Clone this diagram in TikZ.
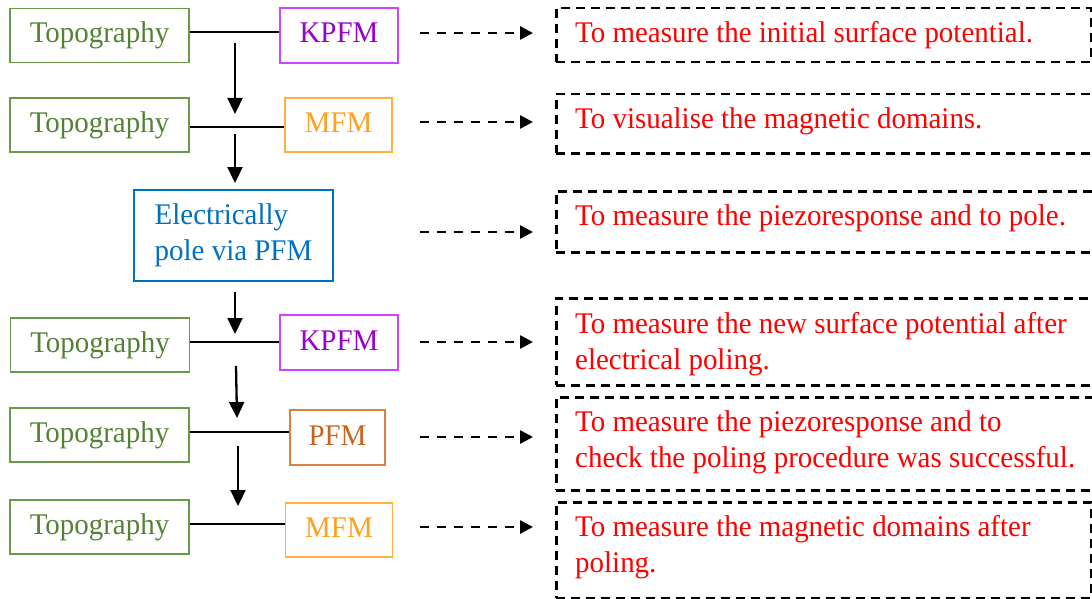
\documentclass[tikz,border=0pt]{standalone}
\usepackage{fontspec}
\setmainfont{Liberation Serif}[FakeStretch=0.965]
\usetikzlibrary{arrows.meta}
\definecolor{topoC}{HTML}{548235}
\definecolor{topoB}{HTML}{6A9A48}
\definecolor{kpfmC}{HTML}{9A00CC}
\definecolor{kpfmB}{HTML}{CC44FF}
\definecolor{mfmC}{HTML}{FFA020}
\definecolor{mfmB}{HTML}{FFB040}
\definecolor{pfmC}{HTML}{C8641E}
\definecolor{pfmB}{HTML}{D9823F}
\definecolor{blueC}{HTML}{0070C0}
\tikzset{
  every node/.style={font=\fontsize{30}{35.5}\selectfont, inner sep=0pt},
  single/.style={text height=15pt, text depth=0pt, line width=1.3pt},
  topo/.style={single, draw=topoB, text=topoC, minimum width=179, minimum height=54},
  kpfm/.style={single, draw=kpfmB, text=kpfmC, minimum width=118, minimum height=55},
  mfm/.style={single, draw=mfmB, text=mfmC, minimum width=107, minimum height=54},
  pfm/.style={single, draw=pfmB, text=pfmC, minimum width=95, minimum height=55},
  polebox/.style={draw=blueC, text=blueC, line width=1.3pt, minimum width=199, minimum height=91, align=left},
  dbox/.style={draw=black, line width=2.5pt, dash pattern=on 9pt off 6pt, anchor=north west},
  dtext/.style={text=red, anchor=base west, align=left},
  link/.style={draw=black, line width=2pt},
  flow/.style={draw=black, line width=2.3pt, -{Triangle[length=16pt,width=15pt]}},
  dflow/.style={draw=black, line width=2.6pt, dash pattern=on 9pt off 8pt, -{Triangle[length=13pt,width=13pt]}},
}
\begin{document}
\begin{tikzpicture}[x=1pt,y=-1pt]
\useasboundingbox (0,0) rectangle (1092,599);
\clip (0,0) rectangle (1092,599);
% left column
\node[topo] (t1) at (99.5,35.5) {Topography};
\node[kpfm] (k1) at (339,35.5) {KPFM};
\node[topo] (t2) at (99.5,125) {Topography};
\node[mfm]  (m2) at (338.5,125) {MFM};
\node[polebox] (pole) at (233.5,235.5) {Electrically\\pole via PFM};
\node[topo] (t4) at (100,345) {Topography};
\node[kpfm] (k4) at (339,342.5) {KPFM};
\node[topo] (t5) at (99.5,435) {Topography};
\node[pfm]  (p5) at (337.5,437.5) {PFM};
\node[topo] (t6) at (99.5,527) {Topography};
\node[mfm]  (m6) at (339,530) {MFM};
% horizontal links
\draw[link] ([yshift=3.5pt]t1.east) -- ([yshift=3.5pt]k1.west);
\draw[link] ([yshift=-2pt]t2.east) -- ([yshift=-2pt]m2.west);
\draw[link] ([yshift=3pt]t4.east) -- ([yshift=0.5pt]k4.west);
\draw[link] ([yshift=3pt]t5.east) -- ([yshift=5.5pt]p5.west);
\draw[link] ([yshift=3pt]t6.east) -- ([yshift=6pt]m6.west);
% vertical flow
\coordinate (a1s) at (235,43);  \coordinate (a1e) at (235,114);
\coordinate (a2s) at (235,134); \coordinate (a2e) at (235,183);
\coordinate (a3s) at (235,292); \coordinate (a3e) at (235,334);
\coordinate (a4s) at (236,366); \coordinate (a4e) at (237,418);
\coordinate (a5s) at (238,446); \coordinate (a5e) at (238,506);
\draw[flow] (a1s) -- (a1e);
\draw[flow] (a2s) -- (a2e);
\draw[flow] (a3s) -- (a3e);
\draw[flow] (a4s) -- (a4e);
\draw[flow] (a5s) -- (a5e);
% right column dashed boxes
\node[dbox, minimum width=535, minimum height=54] (d1) at (555,7) {};
\node[dbox, minimum width=560, minimum height=59] (d2) at (555,93) {};
\node[dbox, minimum width=560, minimum height=61] (d3) at (555,190) {};
\node[dbox, minimum width=560, minimum height=87] (d4) at (555,297) {};
\node[dbox, minimum width=560, minimum height=93] (d5) at (555,396) {};
\node[dbox, minimum width=535, minimum height=96] (d6) at (555,501) {};
% texts (base anchor = baseline of last line)
\node[dtext] (x1) at (575,43)  {To measure the initial surface potential.};
\node[dtext] (x2) at (575,129) {To visualise the magnetic domains.};
\node[dtext] (x3) at (575,225) {To measure the piezoresponse and to pole.};
\node[dtext] (x4) at (575,369) {To measure the new surface potential after\\electrical poling.};
\node[dtext] (x5) at (575,467) {To measure the piezoresponse and to\\check the poling procedure was successful.};
\node[dtext] (x6) at (575,572) {To measure the magnetic domains after\\poling.};
% dashed arrows
\coordinate (b1) at (420,33);  \coordinate (e1) at (533,33);
\coordinate (b2) at (420,122); \coordinate (e2) at (533,122);
\coordinate (b3) at (420,232); \coordinate (e3) at (533,232);
\coordinate (b4) at (420,342); \coordinate (e4) at (533,342);
\coordinate (b5) at (420,437); \coordinate (e5) at (533,437);
\coordinate (b6) at (420,527); \coordinate (e6) at (533,527);
\draw[dflow] (b1) -- (e1);
\draw[dflow] (b2) -- (e2);
\draw[dflow] (b3) -- (e3);
\draw[dflow] (b4) -- (e4);
\draw[dflow] (b5) -- (e5);
\draw[dflow] (b6) -- (e6);
\end{tikzpicture}
\end{document}
